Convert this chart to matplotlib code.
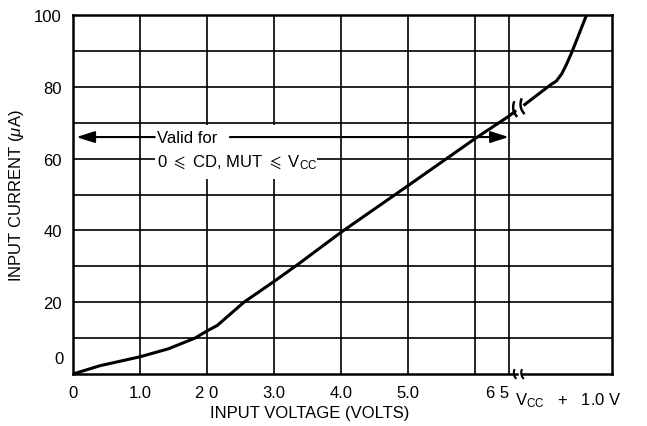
import matplotlib
matplotlib.use("Agg")
import matplotlib.pyplot as plt
from matplotlib.patches import Rectangle
import numpy as np

FONT = ["Liberation Sans", "DejaVu Sans"]
plt.rcParams["font.family"] = FONT
plt.rcParams["mathtext.fontset"] = "custom"
plt.rcParams["mathtext.rm"] = "Liberation Sans"
plt.rcParams["mathtext.it"] = "Liberation Sans:italic"
FS = 12

# input current curve, below and above the axis break
volts_low = [0, 0.4, 1.0, 1.42, 1.82, 2.0, 2.15, 2.55, 3.0, 3.36, 4.0, 5.0, 6.0, 6.5, 6.61]
amps_low = [0, 2.3, 4.8, 7.0, 10.0, 12.0, 13.5, 20.0, 25.8, 30.6, 39.5, 52.5, 65.6, 71.8, 73.4]
volts_high = [6.72, 7.12, 7.21, 7.29, 7.36, 7.44, 7.51, 7.58, 7.66]
amps_high = [74.8, 80.5, 81.6, 83.6, 86.2, 89.6, 92.9, 96.2, 100]

x_ticks = [0, 1.0, 2.0, 3.0, 4.0, 5.0, 6.5]
x_tick_labels = ["0", "1.0", "2 0", "3.0", "4.0", "5.0", "6 5"]
x_grid = [1, 2, 3, 4, 5, 6, 6.5]
y_ticks = [20, 40, 60, 80, 100]
y_grid = [10, 20, 30, 40, 50, 60, 70, 80, 90]

# "valid for" range arrow and its label box
valid_lo, valid_hi, valid_level = 0.05, 6.5, 66
box_v = (1.22, 3.64)
box_i = (54.3, 69.4)
arrow_gap_end = 2.34

curve_breaks = [(6.605, 73.8), (6.715, 74.6)]
axis_breaks = [6.6, 6.71]
axis_gap = (6.63, 6.7)

X_MAX = 8.04
PX_X = 539 / X_MAX
PX_Y = 359 / 100.0

fig = plt.figure(figsize=(6.47, 4.27), dpi=100)
ax = fig.add_axes([73 / 647, 52 / 427, 539 / 647, 359 / 427])
ax.set_xlim(0, X_MAX)
ax.set_ylim(0, 100)


def break_mark(x, y, length=16, bow=2.5, angle=100, lw=1.8):
    # small curved stroke used as a break symbol
    t = np.linspace(-1, 1, 15)
    a = np.radians(angle)
    along = t * length / 2
    side = bow * (1 - t ** 2)
    px = along * np.cos(a) + side * np.cos(a + np.pi / 2)
    py = along * np.sin(a) + side * np.sin(a + np.pi / 2)
    ax.plot(x + px / PX_X, y + py / PX_Y, color="black", lw=lw,
            solid_capstyle="butt", clip_on=False, zorder=5)


# grid
for v in x_grid:
    ax.axvline(v, color="black", lw=1.2, zorder=1)
for i in y_grid:
    ax.axhline(i, color="black", lw=1.2, zorder=1)

# white box behind the annotation text
ax.add_patch(Rectangle((box_v[0], box_i[0]), box_v[1] - box_v[0], box_i[1] - box_i[0],
                       facecolor="white", edgecolor="none", zorder=2))

ax.text(box_v[0] + 0.04, valid_level, "Valid for", fontsize=FS,
        va="center", ha="left", zorder=3)
ax.text(box_v[0] + 0.04, 59.0, r"0 $\leqslant$ CD, MUT $\leqslant$ V$_{\rm CC}$",
        fontsize=FS, va="center", ha="left", zorder=3)

arrow = dict(arrowstyle="-|>,head_length=1.1,head_width=0.35", color="black",
             lw=1.5, shrinkA=0, shrinkB=0, mutation_scale=10)
ax.annotate("", xy=(valid_lo, valid_level), xytext=(box_v[0], valid_level),
            arrowprops=arrow, zorder=3)
ax.annotate("", xy=(valid_hi, valid_level), xytext=(arrow_gap_end, valid_level),
            arrowprops=arrow, zorder=3)

# curve
ax.plot(volts_low, amps_low, color="black", lw=2.2, zorder=4,
        solid_joinstyle="round", solid_capstyle="butt")
ax.plot(volts_high, amps_high, color="black", lw=2.2, zorder=4,
        solid_joinstyle="round", solid_capstyle="butt")
for bx, by in curve_breaks:
    break_mark(bx, by)

# frame, bottom edge drawn with a break
for side in ["left", "top", "right"]:
    ax.spines[side].set_linewidth(1.8)
ax.spines["bottom"].set_visible(False)
ax.plot([0, axis_gap[0]], [0, 0], color="black", lw=1.8, clip_on=False, zorder=5)
ax.plot([axis_gap[1], X_MAX], [0, 0], color="black", lw=1.8, clip_on=False, zorder=5)
for bx in axis_breaks:
    break_mark(bx, 0, length=10, bow=1.5, angle=100, lw=1.5)

# ticks
ax.set_xticks(x_ticks)
ax.set_xticklabels(x_tick_labels)
ax.set_yticks(y_ticks)
ax.set_yticklabels([str(v) for v in y_ticks])
ax.tick_params(length=0, labelsize=FS, pad=8)
ax.get_xticklabels()[-1].set_ha("right")
ax.text(-0.14, 4.2, "0", fontsize=FS, ha="right", va="center")
ax.text(6.6, -4.6, r"V$_{\rm CC}$   +   1.0 V", fontsize=FS, ha="left", va="top")

ax.set_xlabel("INPUT VOLTAGE (VOLTS)", fontsize=FS)
ax.xaxis.set_label_coords((310 - 73) / 539, (375 - 406) / 359)
ax.set_ylabel(r"INPUT CURRENT ($\mu$A)", fontsize=FS)
ax.yaxis.set_label_coords((26 - 73) / 539, 0.5)

fig.savefig("out.png", dpi=100)
